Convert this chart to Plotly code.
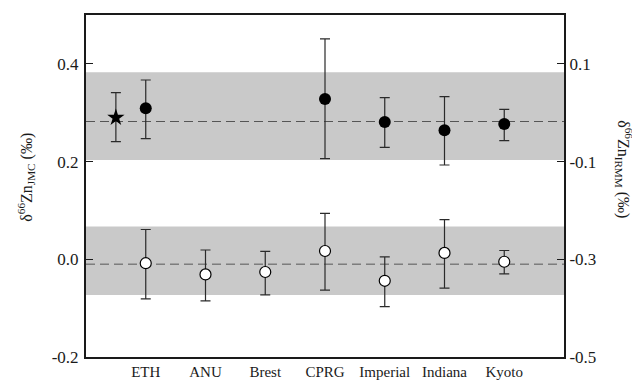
import plotly.graph_objects as go

labs = ["ETH", "ANU", "Brest", "CPRG", "Imperial", "Indiana", "Kyoto"]
lab_x = [1, 2, 3, 4, 5, 6, 7]

# filled circles (upper group, JMC scale)
up_x = [1, 4, 5, 6, 7]
up_y = [0.309, 0.328, 0.281, 0.264, 0.277]
up_hi = [0.367, 0.451, 0.331, 0.333, 0.307]
up_lo = [0.247, 0.206, 0.229, 0.193, 0.243]

# star reference point
star_x = [0.5]
star_y = [0.290]
star_hi = [0.341]
star_lo = [0.241]

# open circles (lower group)
low_x = [1, 2, 3, 4, 5, 6, 7]
low_y = [-0.008, -0.031, -0.026, 0.017, -0.044, 0.013, -0.005]
low_hi = [0.061, 0.019, 0.016, 0.094, 0.005, 0.081, 0.018]
low_lo = [-0.081, -0.085, -0.073, -0.063, -0.097, -0.059, -0.030]

# bands: (low, high, mean)
band_upper = [0.203, 0.383, 0.282]
band_lower = [-0.073, 0.067, -0.010]

left_ticks = [-0.2, 0.0, 0.2, 0.4]
left_text = ["-0.2", "0.0", "0.2", "0.4"]
right_ticks = [-0.5, -0.3, -0.1, 0.1]
right_text = ["-0.5", "-0.3", "-0.1", "0.1"]

FONT = "Liberation Serif, Times New Roman, DejaVu Serif, serif"
EB = "#2a2a2a"

def err(y, hi, lo):
    return dict(type="data", symmetric=False,
                array=[h - v for h, v in zip(hi, y)],
                arrayminus=[v - l for v, l in zip(y, lo)],
                color=EB, thickness=1.2, width=5)

fig = go.Figure()
for lo, hi, m in (band_upper, band_lower):
    fig.add_shape(type="rect", xref="x", yref="y", x0=0, x1=8, y0=lo, y1=hi,
                  fillcolor="#c9c9c9", line_width=0, layer="below")
    fig.add_shape(type="line", xref="x", yref="y", x0=0, x1=8, y0=m, y1=m,
                  line=dict(color="#555555", width=1, dash="9px,5px"), layer="below")

fig.add_trace(go.Scatter(x=star_x, y=star_y, mode="markers",
                         marker=dict(symbol="star", size=13, color="black"),
                         error_y=err(star_y, star_hi, star_lo), showlegend=False))
fig.add_trace(go.Scatter(x=up_x, y=up_y, mode="markers",
                         marker=dict(symbol="circle", size=12, color="black"),
                         error_y=err(up_y, up_hi, up_lo), showlegend=False))
fig.add_trace(go.Scatter(x=low_x, y=low_y, mode="markers",
                         marker=dict(symbol="circle", size=11, color="white",
                                     line=dict(color="black", width=1.2)),
                         error_y=err(low_y, low_hi, low_lo), showlegend=False))
# invisible trace to activate right axis
fig.add_trace(go.Scatter(x=[0], y=[-0.5], yaxis="y2", mode="markers",
                         marker=dict(opacity=0), showlegend=False, hoverinfo="skip"))

axline = dict(showline=True, linecolor="#1a1a1a", linewidth=2, showgrid=False,
              zeroline=False, automargin=False)
fig.update_layout(
    width=632, height=380,
    margin=dict(l=86, r=68, t=15, b=23),
    paper_bgcolor="white", plot_bgcolor="white",
    font=dict(family=FONT, color="#1a1a1a", size=16),
    xaxis=dict(range=[0, 8], tickvals=lab_x, ticktext=labs, ticks="",
               mirror=True, tickfont=dict(size=15, family=FONT), **axline),
    yaxis=dict(range=[-0.2, 0.5], tickvals=left_ticks, ticktext=left_text,
               ticks="inside", ticklen=7, tickwidth=1.2, tickcolor="#1a1a1a",
               tickfont=dict(size=17, family=FONT), ticklabelstandoff=2, **axline),
    yaxis2=dict(range=[-0.5, 0.2], overlaying="y", side="right",
                tickvals=right_ticks, ticktext=right_text,
                ticks="inside", ticklen=7, tickwidth=1.2, tickcolor="#1a1a1a",
                tickfont=dict(size=17, family=FONT), **axline),
    annotations=[
        dict(text="δ<sup>66</sup>Zn<sub>JMC</sub> (‰)", xref="paper", yref="paper",
             x=-0.125, y=0.525, textangle=-90, showarrow=False,
             xanchor="center", yanchor="middle", font=dict(size=16, family=FONT)),
        dict(text="δ<sup>66</sup>Zn<sub>IRMM</sub> (‰)", xref="paper", yref="paper",
             x=1.125, y=0.55, textangle=90, showarrow=False,
             xanchor="center", yanchor="middle", font=dict(size=16, family=FONT)),
    ],
)
fig.write_html("out.html", config={"displayModeBar": False},
               post_script="document.body.style.margin='0';document.body.style.overflow='hidden';")
